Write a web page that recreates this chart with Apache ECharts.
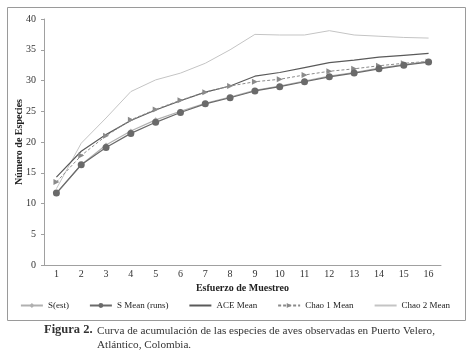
<!DOCTYPE html>
<html>
<head>
<meta charset="utf-8">
<script src="https://cdn.jsdelivr.net/npm/echarts@6/dist/echarts.min.js"></script>
<style>
  html, body { margin: 0; padding: 0; background: #fff; }
  #chart { width: 470px; height: 354px; }
</style>
</head>
<body>
<div id="chart"></div>
<script>
  // esfuerzo de muestreo
  const categories = ['1','2','3','4','5','6','7','8','9','10','11','12','13','14','15','16']
  const sEst = [11.6, 16.3, 19.5, 21.8, 23.6, 25.0, 26.3, 27.3, 28.4, 29.1, 29.9, 30.7, 31.3, 32.0, 32.6, 33.1]
  const sMean = [11.7, 16.3, 19.1, 21.4, 23.2, 24.8, 26.2, 27.2, 28.3, 29.0, 29.8, 30.6, 31.2, 31.9, 32.5, 33.0]
  const aceMean = [14.3, 18.5, 21.2, 23.5, 25.2, 26.7, 28.1, 29.1, 30.7, 31.3, 32.1, 32.9, 33.3, 33.8, 34.1, 34.4]
  const chao1Mean = [13.5, 17.8, 21.0, 23.6, 25.3, 26.8, 28.1, 29.1, 29.8, 30.2, 30.9, 31.5, 31.9, 32.4, 32.8, 33.1]
  const chao2Mean = [12.4, 19.8, 23.9, 28.2, 30.1, 31.2, 32.8, 35.0, 37.5, 37.4, 37.4, 38.1, 37.4, 37.2, 37.0, 36.9]

  const serif = 'Liberation Serif'
  const chart = echarts.init(document.getElementById('chart'))

  const option = {
    animation: false,
    textStyle: { fontFamily: serif },
    grid: { left: 44, right: 29, top: 19, bottom: 89 },
    xAxis: {
      type: 'category',
      data: categories,
      name: 'Esfuerzo de Muestreo',
      nameLocation: 'middle',
      nameGap: 18,
      nameMoveOverlap: false,
      nameTextStyle: { fontFamily: serif, fontWeight: 'bold', fontSize: 10, color: '#222' },
      axisLine: { lineStyle: { color: '#a0a0a0' } },
      axisTick: { show: false },
      axisLabel: { fontFamily: serif, fontSize: 10, color: '#333', margin: 4 }
    },
    yAxis: {
      type: 'value',
      min: 0, max: 40, interval: 5,
      name: 'Número de Especies',
      nameLocation: 'middle',
      nameGap: 20,
      nameMoveOverlap: false,
      nameTextStyle: { fontFamily: serif, fontWeight: 'bold', fontSize: 10, color: '#222' },
      axisLine: { show: true, lineStyle: { color: '#a0a0a0' } },
      axisTick: { show: true, length: 3, lineStyle: { color: '#a0a0a0' } },
      axisLabel: { fontFamily: serif, fontSize: 10, color: '#333', margin: 8 },
      splitLine: { show: false }
    },
    legend: {
      top: 296,
      left: 'center',
      itemGap: 20,
      itemWidth: 22,
      itemHeight: 6,
      textStyle: { fontFamily: serif, fontSize: 9, color: '#222' },
      data: [
        'S(est)',
        'S Mean (runs)',
        { name: 'ACE Mean', itemStyle: { opacity: 0 } },
        'Chao 1 Mean',
        { name: 'Chao 2 Mean', itemStyle: { opacity: 0 } }
      ]
    },
    series: [
      {
        name: 'Chao 2 Mean', type: 'line', data: chao2Mean,
        symbol: 'none', lineStyle: { color: '#c4c4c4', width: 1 }, itemStyle: { color: '#c4c4c4' }
      },
      {
        name: 'ACE Mean', type: 'line', data: aceMean,
        symbol: 'none', lineStyle: { color: '#5a5a5a', width: 1.2 }, itemStyle: { color: '#5a5a5a' }
      },
      {
        name: 'Chao 1 Mean', type: 'line', data: chao1Mean,
        symbol: 'path://M0,0 L10,5 L0,10 Z', symbolSize: 6,
        lineStyle: { color: '#8a8a8a', width: 1, type: [3, 2] }, itemStyle: { color: '#8a8a8a' }
      },
      {
        name: 'S(est)', type: 'line', data: sEst,
        symbol: 'diamond', symbolSize: 5,
        lineStyle: { color: '#b0b0b0', width: 1.2 }, itemStyle: { color: '#b0b0b0' }
      },
      {
        name: 'S Mean (runs)', type: 'line', data: sMean,
        symbol: 'circle', symbolSize: 7,
        lineStyle: { color: '#6a6a6a', width: 1.2 }, itemStyle: { color: '#6a6a6a' }
      }
    ],
    graphic: [
      {
        type: 'rect', left: 5, top: 5, z: -1,
        shape: { width: 458, height: 313 },
        style: { fill: 'none', stroke: '#9a9a9a', lineWidth: 1 }
      },
      {
        type: 'text', left: 44, top: 323,
        style: { text: 'Figura 2.', font: 'bold 12.5px "Liberation Serif"', fill: '#333' }
      },
      {
        type: 'text', left: 97, top: 324,
        style: {
          text: 'Curva de acumulación de las especies de aves observadas en Puerto Velero,\nAtlántico, Colombia.',
          font: '11.2px "Liberation Serif"', fill: '#333', lineHeight: 14
        }
      }
    ]
  }
  chart.setOption(option)
</script>
</body>
</html>
